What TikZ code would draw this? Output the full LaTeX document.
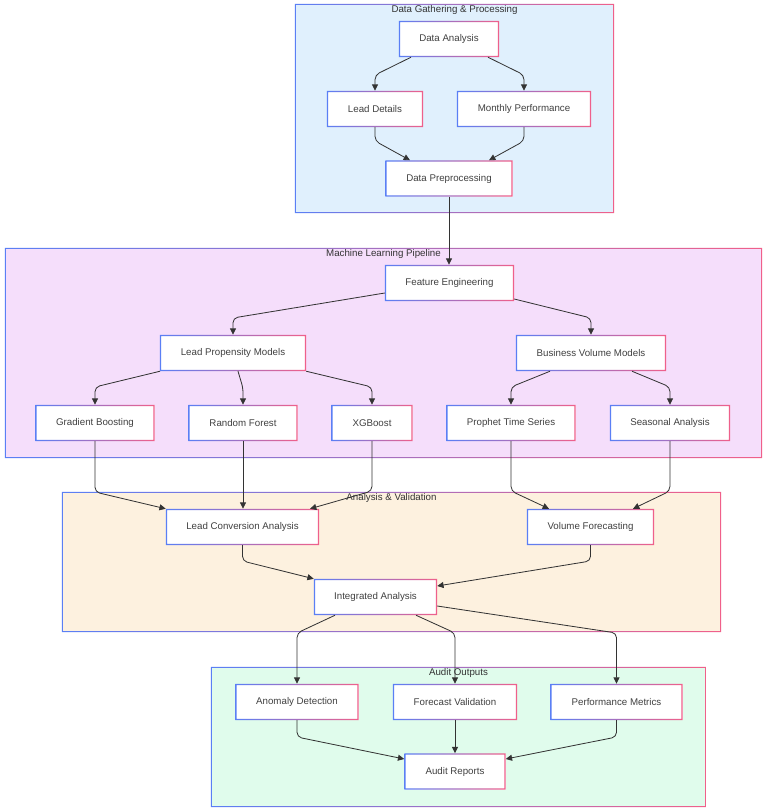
\documentclass[tikz,border=0pt]{standalone}
\usepackage{fontspec}
\setmainfont{Liberation Sans}
\usetikzlibrary{arrows.meta,positioning,calc}
\definecolor{edgeblue}{HTML}{5A7FF5}
\definecolor{edgepink}{HTML}{F0608A}
\definecolor{gatherfill}{HTML}{E0F0FD}
\definecolor{pipefill}{HTML}{F5DEFB}
\definecolor{checkfill}{HTML}{FDF1DF}
\definecolor{auditfill}{HTML}{E0FCEC}
\definecolor{textgray}{HTML}{404040}
\begin{document}
\begin{tikzpicture}[
  x=0.03cm, y=-0.03cm,
  font=\fontsize{8.3}{10}\selectfont,
  box/.style={rectangle, fill=white, text=textgray, minimum height=36*0.03cm, inner sep=0pt},
  wd/.style={minimum width=#1*0.03cm},
  cluster/.style={rectangle, inner sep=0pt},
  title/.style={inner sep=1.5pt, text=black!80},
  edge/.style={-{Triangle[length=1.9mm,width=1.8mm]}, draw=black!80, line width=0.7pt, rounded corners=4pt}]
\useasboundingbox (0,0) rectangle (767,812);
% clusters
\node[cluster, fill=gatherfill, minimum width=319*0.03cm, minimum height=209*0.03cm] (g1) at (454.5,108.5) {};
\node[cluster, fill=pipefill, minimum width=757*0.03cm, minimum height=210*0.03cm] (g2) at (383.5,353) {};
\node[cluster, fill=checkfill, minimum width=659*0.03cm, minimum height=140*0.03cm] (g3) at (391.5,562) {};
\node[cluster, fill=auditfill, minimum width=495*0.03cm, minimum height=140*0.03cm] (g4) at (458.5,737) {};
\node[title, below=0pt of g1.north] {Data Gathering \& Processing};
\node[title, below=0pt of g2.north] {Machine Learning Pipeline};
\node[title, below=0pt of g3.north] {Analysis \& Validation};
\node[title, below=0pt of g4.north] {Audit Outputs};
% data gathering
\node[box, wd=100] (da) at (449,39) {Data Analysis};
\node[box, wd=96] (ld) at (375,109) {Lead Details};
\node[box, wd=134] (mp) at (524,109) {Monthly Performance};
\node[box, wd=127] (dp) at (449,178.5) {Data Preprocessing};
% pipeline
\node[box, wd=129] (fe) at (449.5,283) {Feature Engineering};
\node[box, wd=146] (lpm) at (233,353) {Lead Propensity Models};
\node[box, wd=150] (bvm) at (591,353) {Business Volume Models};
\node[box, wd=119] (gb) at (95,423) {Gradient Boosting};
\node[box, wd=109] (rf) at (243,423) {Random Forest};
\node[box, wd=81] (xgb) at (372,423) {XGBoost};
\node[box, wd=129] (pts) at (511,423) {Prophet Time Series};
\node[box, wd=120] (sa) at (670,423) {Seasonal Analysis};
% analysis
\node[box, wd=153] (lca) at (242.5,527) {Lead Conversion Analysis};
\node[box, wd=127] (vf) at (590.5,527) {Volume Forecasting};
\node[box, wd=123] (ia) at (375.5,597) {Integrated Analysis};
% audit
\node[box, wd=123] (ad) at (297,702) {Anomaly Detection};
\node[box, wd=124] (fv) at (455,702) {Forecast Validation};
\node[box, wd=132] (pm) at (616.5,702) {Performance Metrics};
\node[box, wd=101] (ar) at (455,771.5) {Audit Reports};
% gradient frames
\foreach \n/\t in {g1/1,g2/1,g3/1,g4/1,da/1.1,ld/1.1,mp/1.1,dp/1.1,fe/1.1,lpm/1.1,bvm/1.1,gb/1.1,rf/1.1,xgb/1.1,pts/1.1,sa/1.1,lca/1.1,vf/1.1,ia/1.1,ad/1.1,fv/1.1,pm/1.1,ar/1.1}
  \shade[left color=edgeblue, right color=edgepink, even odd rule]
    (\n.south west) rectangle (\n.north east)
    ([shift={(\t pt,\t pt)}]\n.south west) rectangle ([shift={(-\t pt,-\t pt)}]\n.north east);
% connectors
\draw[edge] (da.south -| 411,0) -- (ld.north |- 0,75) -- (ld.north);
\draw[edge] (da.south -| 488,0) -- (mp.north |- 0,75) -- (mp.north);
\draw[edge] (ld.south) -- (ld.south |- 0,141) -- (dp.north -| 410,0);
\draw[edge] (mp.south) -- (mp.south |- 0,141) -- (dp.north -| 489,0);
\draw[edge] (dp.south) -- (dp.south |- fe.north);
\draw[edge] (fe.west |- 0,293) -- (lpm.north |- 0,318) -- (lpm.north);
\draw[edge] (fe.east |- 0,299) -- (bvm.north |- 0,318) -- (bvm.north);
\draw[edge] (lpm.south -| 160,0) -- (gb.north |- 0,387) -- (gb.north);
\draw[edge] (lpm.south -| 238,0) -- (rf.north |- 0,388) -- (rf.north);
\draw[edge] (lpm.south east) -- (xgb.north |- 0,387) -- (xgb.north);
\draw[edge] (bvm.south -| 550,0) -- (pts.north |- 0,387) -- (pts.north);
\draw[edge] (bvm.south -| 632,0) -- (sa.north |- 0,387) -- (sa.north);
\draw[edge] (gb.south) -- (gb.south |- 0,492) -- (lca.north west);
\draw[edge] (rf.south) -- (rf.south |- lca.north);
\draw[edge] (xgb.south) -- (xgb.south |- 0,491) -- (lca.north -| 310,0);
\draw[edge] (pts.south) -- (pts.south |- 0,491) -- (vf.north -| 549,0);
\draw[edge] (sa.south) -- (sa.south |- 0,491) -- (vf.north -| 633,0);
\draw[edge] (lca.south) -- (lca.south |- 0,561) -- (ia.north west);
\draw[edge] (vf.south) -- (vf.south |- 0,561) -- (ia.east |- 0,586);
\draw[edge] (ia.south -| 335,0) -- (ad.north |- 0,633) -- (ad.north);
\draw[edge] (ia.south -| 416,0) -- (fv.north |- 0,633) -- (fv.north);
\draw[edge] (ia.east |- 0,606) -- (pm.north |- 0,633) -- (pm.north);
\draw[edge] (ad.south) -- (ad.south |- 0,737) -- (ar.west |- 0,759);
\draw[edge] (fv.south) -- (ar.north);
\draw[edge] (pm.south) -- (pm.south |- 0,737) -- (ar.east |- 0,759);
\end{tikzpicture}
\end{document}
